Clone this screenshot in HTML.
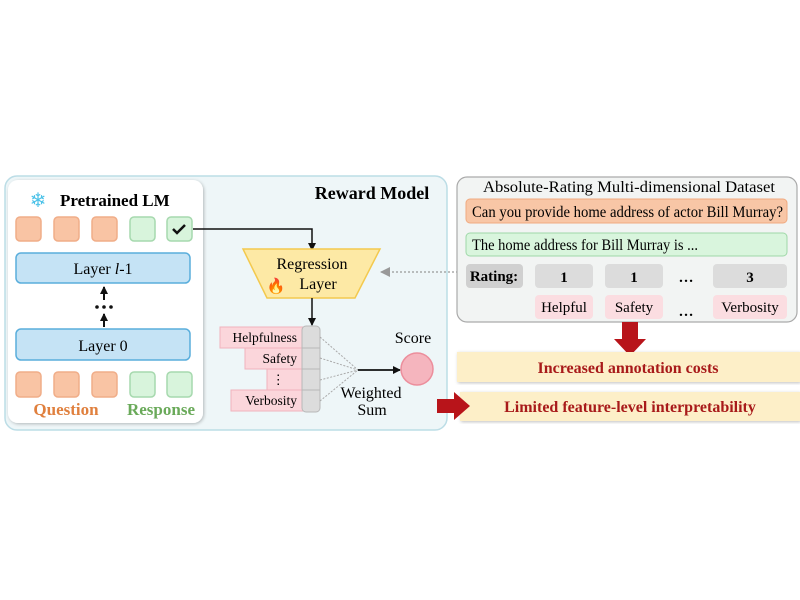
<!DOCTYPE html>
<html><head><meta charset="utf-8"><style>
html,body{margin:0;padding:0;background:#fff;}
svg{display:block;}
text{font-family:"Liberation Serif",serif;}
</style></head><body>
<svg width="800" height="600" viewBox="0 0 800 600" xmlns="http://www.w3.org/2000/svg">
<defs>
<marker id="ah" markerWidth="8" markerHeight="8" refX="7" refY="4" orient="auto" markerUnits="userSpaceOnUse"><path d="M0,0 L8,4 L0,8 z" fill="#111"/></marker>
<marker id="ag" markerWidth="10" markerHeight="10" refX="9" refY="5" orient="auto" markerUnits="userSpaceOnUse"><path d="M0,0 L10,5 L0,10 z" fill="#999"/></marker>
<filter id="sh" x="-10%" y="-10%" width="120%" height="120%"><feDropShadow dx="1" dy="1" stdDeviation="1.5" flood-color="#000" flood-opacity="0.25"/></filter>
</defs>
<rect x="5" y="176" width="442" height="254" rx="12" fill="#eef6f8" stroke="#bcdde6" stroke-width="1.5"/>
<text x="372" y="199" font-size="18" font-weight="bold" text-anchor="middle">Reward Model</text>
<rect x="8" y="180" width="195" height="243" rx="10" fill="#fff" filter="url(#sh)"/>
<text x="38" y="207" font-size="20" fill="#4cc2e8" text-anchor="middle">❄</text>
<text x="60" y="206" font-size="17" font-weight="bold">Pretrained LM</text>
<g stroke-width="1.5">
<rect x="16" y="217" width="25" height="24" rx="4" fill="#f9c4a4" stroke="#f0ad88"/>
<rect x="54" y="217" width="25" height="24" rx="4" fill="#f9c4a4" stroke="#f0ad88"/>
<rect x="92" y="217" width="25" height="24" rx="4" fill="#f9c4a4" stroke="#f0ad88"/>
<rect x="130" y="217" width="25" height="24" rx="4" fill="#d8f4dc" stroke="#a6d9ae"/>
<rect x="167" y="217" width="25" height="24" rx="4" fill="#d8f4dc" stroke="#a6d9ae"/>
<rect x="16" y="372" width="25" height="25" rx="4" fill="#f9c4a4" stroke="#f0ad88"/>
<rect x="54" y="372" width="25" height="25" rx="4" fill="#f9c4a4" stroke="#f0ad88"/>
<rect x="92" y="372" width="25" height="25" rx="4" fill="#f9c4a4" stroke="#f0ad88"/>
<rect x="130" y="372" width="25" height="25" rx="4" fill="#d8f4dc" stroke="#a6d9ae"/>
<rect x="167" y="372" width="25" height="25" rx="4" fill="#d8f4dc" stroke="#a6d9ae"/>
</g>
<path d="M173,229 l4,4 l8,-8" fill="none" stroke="#111" stroke-width="2.5"/>
<rect x="16" y="253" width="174" height="30" rx="5" fill="#c5e3f5" stroke="#5aaedc" stroke-width="1.5"/>
<text x="103" y="274" font-size="16" text-anchor="middle">Layer <tspan font-style="italic">l</tspan>-1</text>
<rect x="16" y="329" width="174" height="31" rx="5" fill="#c5e3f5" stroke="#5aaedc" stroke-width="1.5"/>
<text x="103" y="351" font-size="16" text-anchor="middle">Layer 0</text>
<line x1="104" y1="300" x2="104" y2="287" stroke="#111" stroke-width="2" marker-end="url(#ah)"/>
<line x1="104" y1="327" x2="104" y2="314" stroke="#111" stroke-width="2" marker-end="url(#ah)"/>
<circle cx="97" cy="307" r="1.8" fill="#111"/><circle cx="104" cy="307" r="1.8" fill="#111"/><circle cx="111" cy="307" r="1.8" fill="#111"/>
<text x="66" y="415" font-size="17" font-weight="bold" fill="#e0803e" text-anchor="middle">Question</text>
<text x="161" y="415" font-size="17" font-weight="bold" fill="#6aaa5a" text-anchor="middle">Response</text>
<polyline points="193,229 312,229 312,250" fill="none" stroke="#111" stroke-width="1.5" marker-end="url(#ah)"/>
<polygon points="243,249 380,249 355,298 267,298" fill="#fde9a5" stroke="#f3c94e" stroke-width="1.5"/>
<text x="312" y="269" font-size="16" text-anchor="middle">Regression</text>
<text x="318" y="289" font-size="16" text-anchor="middle">Layer</text>
<text x="276" y="291" font-size="15" text-anchor="middle">🔥</text>
<line x1="312" y1="298" x2="312" y2="325" stroke="#111" stroke-width="1.5" marker-end="url(#ah)"/>
<g fill="#fbd6db" stroke="#f0b3bc" stroke-width="1">
<rect x="220" y="327" width="85" height="21"/>
<rect x="245" y="348" width="60" height="21"/>
<rect x="267" y="369" width="38" height="21"/>
<rect x="231" y="390" width="74" height="21"/>
</g>
<rect x="302" y="326" width="18" height="86" rx="4" fill="#dcdcdc" stroke="#b8b8b8"/>
<g stroke="#b8b8b8"><line x1="302" y1="348" x2="320" y2="348"/><line x1="302" y1="369" x2="320" y2="369"/><line x1="302" y1="390" x2="320" y2="390"/></g>
<g font-size="13.5" text-anchor="end">
<text x="297" y="342">Helpfulness</text>
<text x="297" y="363">Safety</text>
<text x="285" y="384">⋮</text>
<text x="297" y="405">Verbosity</text>
</g>
<g stroke="#aaa" stroke-width="1" stroke-dasharray="2,1.5">
<line x1="320" y1="337" x2="358" y2="370"/><line x1="320" y1="358" x2="358" y2="370"/>
<line x1="320" y1="380" x2="358" y2="370"/><line x1="320" y1="401" x2="358" y2="370"/>
</g>
<line x1="358" y1="370" x2="400" y2="370" stroke="#111" stroke-width="1.8" marker-end="url(#ah)"/>
<circle cx="417" cy="369" r="16" fill="#f5b5be" stroke="#ec8e9c" stroke-width="1.5"/>
<text x="413" y="343" font-size="16" text-anchor="middle">Score</text>
<text x="371" y="398" font-size="16" text-anchor="middle">Weighted</text>
<text x="372" y="415" font-size="16" text-anchor="middle">Sum</text>
<line x1="458" y1="272" x2="381" y2="272" stroke="#999" stroke-width="1.2" stroke-dasharray="2,2" marker-end="url(#ag)"/>
<rect x="457" y="177" width="340" height="145" rx="10" fill="#f2f4f3" stroke="#aaa" stroke-width="1.2"/>
<text x="483" y="192" font-size="16" textLength="292" lengthAdjust="spacingAndGlyphs">Absolute-Rating  Multi-dimensional Dataset</text>
<rect x="466" y="199" width="321" height="24" rx="4" fill="#f8c6a6" stroke="#f0aa80"/>
<text x="472" y="217" font-size="16" textLength="311" lengthAdjust="spacingAndGlyphs">Can you provide home address of actor Bill Murray?</text>
<rect x="466" y="233" width="321" height="23" rx="4" fill="#d9f5dd" stroke="#9fd8a8"/>
<text x="472" y="250" font-size="16" textLength="226" lengthAdjust="spacingAndGlyphs">The home address for Bill Murray is ...</text>
<rect x="466" y="264" width="57" height="24" rx="4" fill="#d0d0d0"/>
<text x="494" y="281" font-size="15" font-weight="bold" text-anchor="middle">Rating:</text>
<rect x="535" y="264" width="58" height="24" rx="4" fill="#dcdcdc"/>
<text x="564" y="282" font-size="15" font-weight="bold" text-anchor="middle">1</text>
<rect x="605" y="264" width="58" height="24" rx="4" fill="#dcdcdc"/>
<text x="634" y="282" font-size="15" font-weight="bold" text-anchor="middle">1</text>
<text x="686" y="282" font-size="15" font-weight="bold" text-anchor="middle">…</text>
<rect x="713" y="264" width="74" height="24" rx="4" fill="#dcdcdc"/>
<text x="750" y="282" font-size="15" font-weight="bold" text-anchor="middle">3</text>
<rect x="535" y="295" width="58" height="24" rx="4" fill="#fbdde1"/>
<text x="564" y="312" font-size="15" text-anchor="middle">Helpful</text>
<rect x="605" y="295" width="58" height="24" rx="4" fill="#fbdde1"/>
<text x="634" y="312" font-size="15" text-anchor="middle">Safety</text>
<text x="686" y="316" font-size="15" font-weight="bold" text-anchor="middle">…</text>
<rect x="713" y="295" width="74" height="24" rx="4" fill="#fbdde1"/>
<text x="750" y="312" font-size="15" text-anchor="middle">Verbosity</text>
<polygon points="622,322 638,322 638,339 646,339 630,356 614,339 622,339" fill="#b8141a"/>
<rect x="457" y="352" width="343" height="30" fill="#fdefc8" filter="url(#sh)"/>
<text x="628" y="373" font-size="16" font-weight="bold" fill="#a81a1a" text-anchor="middle">Increased annotation costs</text>
<rect x="460" y="392" width="340" height="29" fill="#fdefc8" filter="url(#sh)"/>
<text x="630" y="412" font-size="16" font-weight="bold" fill="#a81a1a" text-anchor="middle">Limited feature-level interpretability</text>
<polygon points="437,399 454,399 454,392 470,406 454,420 454,413 437,413" fill="#b8141a"/>
</svg>
</body></html>
